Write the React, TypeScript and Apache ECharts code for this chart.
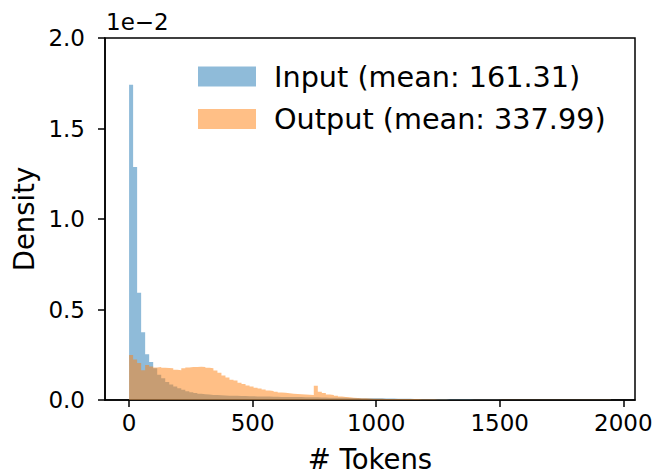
import React, { useEffect, useRef } from "react";
import * as echarts from "echarts";

// Histogram bin width in tokens (bins start at 0)
const BIN_WIDTH = 16.25;

// Density values in units of 1e-2, one per bin
const inputDensity = [
  1.742, 1.287, 0.593, 0.374, 0.253, 0.21,
  0.175, 0.14, 0.12, 0.1, 0.085, 0.075, 0.065,
  0.056, 0.048, 0.043, 0.039, 0.035, 0.032, 0.03, 0.028, 0.027, 0.026,
  0.025, 0.024, 0.024, 0.023, 0.022, 0.022, 0.021, 0.021,
  0.02, 0.02, 0.019, 0.019, 0.018, 0.018, 0.017, 0.017, 0.017, 0.016, 0.016, 0.016, 0.015, 0.015, 0.015,
  0.015,
  0.014, 0.014, 0.013, 0.013, 0.012, 0.012, 0.012, 0.011, 0.011, 0.011, 0.01, 0.01, 0.01, 0.009,
  0.009, 0.009, 0.008, 0.008, 0.008, 0.007, 0.007, 0.007, 0.007, 0.006, 0.006, 0.006, 0.006, 0.005, 0.005, 0.005, 0.005, 0.005, 0.004, 0.004,
  0.004, 0.004, 0.004, 0.004, 0.003, 0.003, 0.003, 0.003, 0.003, 0.003, 0.003, 0.002, 0.002, 0.002, 0.002, 0.002, 0.002, 0.002, 0.002, 0.002, 0.002,
  0.001, 0.001, 0.001, 0.001, 0.001, 0.001, 0.001, 0.001, 0.001, 0.001, 0.001, 0.001, 0.001, 0.001, 0.001, 0.001, 0.001, 0.001,
];

const outputDensity = [
  0.249, 0.224, 0.205, 0.165, 0.193, 0.185, 0.18, 0.182, 0.178, 0.177, 0.176,
  0.167, 0.165, 0.175, 0.18, 0.182, 0.183, 0.184, 0.183, 0.178, 0.176, 0.163, 0.15,
  0.135, 0.125, 0.112, 0.108, 0.095, 0.088, 0.08, 0.075, 0.068, 0.063, 0.058, 0.053, 0.05, 0.046, 0.042, 0.04, 0.037, 0.035, 0.033, 0.032, 0.03, 0.029, 0.028,
  0.079,
  0.045, 0.038, 0.031, 0.028, 0.024, 0.02, 0.017, 0.015, 0.012, 0.011, 0.01, 0.009, 0.008,
  0.007, 0.007, 0.007, 0.006, 0.006, 0.006, 0.006, 0.005, 0.005, 0.005, 0.005, 0.005, 0.004, 0.004, 0.004, 0.004, 0.003, 0.003, 0.003, 0.002, 0.002,
  0.002, 0.002, 0.002, 0.002, 0.002, 0.002, 0.002, 0.002, 0.002,
  0.001, 0.001, 0.001, 0.001, 0.001, 0.001, 0.001, 0.001, 0.001, 0.001, 0.001, 0.001, 0.001, 0.001, 0.001,
  0.001, 0.001, 0.001, 0.001, 0.001, 0.001, 0.001, 0.001, 0.001, 0.001, 0.001, 0.001, 0.001, 0.001, 0.001,
];

const xTicks = [0, 500, 1000, 1500, 2000];
const seriesNames = ["Input (mean: 161.31)", "Output (mean: 337.99)"];
const xAxisName = "# Tokens";
const yAxisName = "Density";
const yScaleLabel = "1e\u22122";

const FONT = "DejaVu Sans";

function toSteps(vals: number[]): number[][] {
  const pts = vals.map((v, i) => [i * BIN_WIDTH, v]);
  pts.push([vals.length * BIN_WIDTH, 0]);
  return pts;
}

export default function App() {
  const ref = useRef<HTMLDivElement>(null);
  useEffect(() => {
    if (!ref.current) return;
    const chart = echarts.init(ref.current, undefined, { renderer: "svg" });
    chart.setOption({
      animation: false,
      backgroundColor: "#ffffff",
      grid: {
        left: 105,
        right: 23,
        top: 38,
        bottom: 75,
        show: true,
        borderColor: "#000",
        borderWidth: 1.5,
        backgroundColor: "transparent",
        containLabel: false,
        outerBoundsMode: "none",
      },
      legend: {
        orient: "vertical",
        left: 193,
        top: 57,
        icon: "rect",
        itemWidth: 58,
        itemHeight: 20,
        itemGap: 13.5,
        textStyle: {
          fontFamily: FONT,
          fontSize: 28.7,
          color: "#000",
          lineHeight: 28,
          padding: [0, 0, 0, 13],
        },
        data: [
          { name: seriesNames[0], itemStyle: { color: "#8fbbd9", borderWidth: 0 } },
          { name: seriesNames[1], itemStyle: { color: "#ffbf86", borderWidth: 0 } },
        ],
      },
      xAxis: {
        type: "value",
        min: -97.5,
        max: 2047.5,
        name: xAxisName,
        nameLocation: "middle",
        nameGap: 47,
        nameTextStyle: { fontFamily: FONT, fontSize: 27.5, color: "#000", lineHeight: 24 },
        axisLine: { show: true, onZero: false, lineStyle: { color: "#000", width: 1.5 } },
        axisTick: {
          show: true,
          inside: false,
          length: 7,
          customValues: xTicks,
          lineStyle: { color: "#000", width: 1.5 },
        },
        axisLabel: {
          customValues: xTicks,
          fontFamily: FONT,
          fontSize: 23,
          color: "#000",
          margin: 11,
          formatter: (v: number) => String(v),
        },
        splitLine: { show: false },
      },
      yAxis: {
        type: "value",
        min: 0,
        max: 2,
        interval: 0.5,
        name: yAxisName,
        nameLocation: "middle",
        nameRotate: 90,
        nameGap: 59,
        nameTextStyle: { fontFamily: FONT, fontSize: 27.5, color: "#000" },
        axisLine: { show: true, onZero: false, lineStyle: { color: "#000", width: 1.5 } },
        axisTick: { show: true, inside: false, length: 7, lineStyle: { color: "#000", width: 1.5 } },
        axisLabel: {
          fontFamily: FONT,
          fontSize: 23,
          color: "#000",
          margin: 20,
          formatter: (v: number) => v.toFixed(1),
        },
        splitLine: { show: false },
      },
      graphic: [
        {
          type: "text",
          left: 106,
          top: 10,
          style: {
            text: yScaleLabel,
            font: `23px "${FONT}"`,
            fill: "#000",
          },
        },
      ],
      series: [
        {
          type: "line",
          name: seriesNames[0],
          data: toSteps(inputDensity),
          step: "end",
          symbol: "none",
          showSymbol: false,
          lineStyle: { width: 0, opacity: 0 },
          itemStyle: { color: "#8fbbd9" },
          areaStyle: { color: "#1f77b4", opacity: 0.5 },
          z: 2,
        },
        {
          type: "line",
          name: seriesNames[1],
          data: toSteps(outputDensity),
          step: "end",
          symbol: "none",
          showSymbol: false,
          lineStyle: { width: 0, opacity: 0 },
          itemStyle: { color: "#ffbf86" },
          areaStyle: { color: "#ff7f0e", opacity: 0.5 },
          z: 3,
        },
      ],
    });
    return () => chart.dispose();
  }, []);
  return (
    <div
      ref={ref}
      style={{ position: "absolute", left: 0, top: 0, width: 658, height: 475 }}
    />
  );
}
